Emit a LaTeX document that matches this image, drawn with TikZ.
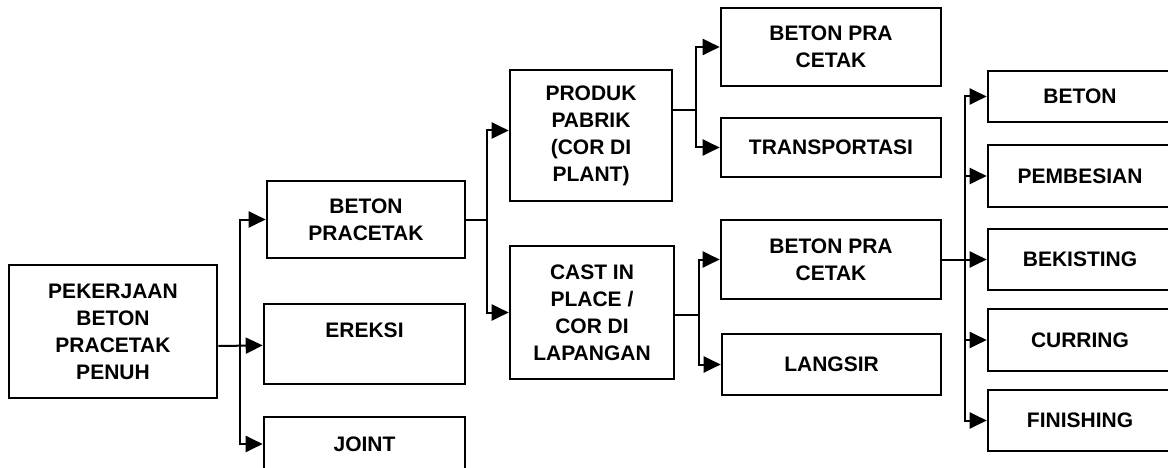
\documentclass[tikz,border=0pt]{standalone}
\usepackage{fontspec}
\setmainfont{Liberation Sans}
\usepackage{tikz}
\usetikzlibrary{arrows.meta, positioning, calc}

\begin{document}
\begin{tikzpicture}[
    x=1pt, y=-1pt,
    block/.style={draw, rectangle, line width=2.6pt, align=center, inner sep=0pt, font=\bfseries\fontsize{21}{27}\selectfont},
    link/.style={line width=2pt},
    >={Triangle[length=17pt, width=16pt]},
]
    \useasboundingbox (0,0) rectangle (1168,468);
    \clip (0,0) rectangle (1168,468);

    \node[block, minimum width=208pt, minimum height=133pt] (root)    at (113,331.5)  {PEKERJAAN\\BETON\\PRACETAK\\PENUH};
    \node[block, minimum width=198pt, minimum height=77pt]  (bpc)     at (366,219.5)  {BETON\\PRACETAK};
    \node[block, minimum width=201pt, minimum height=80pt]  (ereksi)  at (364.5,344)  {EREKSI\\~};
    \node[block, minimum width=201pt, minimum height=54pt]  (joint)   at (364.5,444)  {JOINT};
    \node[block, minimum width=162pt, minimum height=131pt] (produk)  at (591,135.5)  {PRODUK\\PABRIK\\(COR DI\\PLANT)};
    \node[block, minimum width=164pt, minimum height=133pt] (cast)    at (592,312.5)  {CAST IN\\PLACE /\\COR DI\\LAPANGAN};
    \node[block, minimum width=220pt, minimum height=78pt]  (bpc1)    at (831,47)     {BETON PRA\\CETAK};
    \node[block, minimum width=220pt, minimum height=59pt]  (trans)   at (831,147.5)  {TRANSPORTASI};
    \node[block, minimum width=220pt, minimum height=79pt]  (bpc2)    at (831,259.5)  {BETON PRA\\CETAK};
    \node[block, minimum width=219pt, minimum height=61pt]  (langsir) at (831.5,364.5) {LANGSIR};
    \node[block, minimum width=184pt, minimum height=51pt]  (beton)   at (1080,96.5)  {BETON};
    \node[block, minimum width=184pt, minimum height=62pt]  (besi)    at (1080,176)   {PEMBESIAN};
    \node[block, minimum width=184pt, minimum height=61pt]  (bekist)  at (1080,259.5) {BEKISTING};
    \node[block, minimum width=184pt, minimum height=62pt]  (curring) at (1080,340)   {CURRING};
    \node[block, minimum width=184pt, minimum height=61pt]  (finish)  at (1080,420.5) {FINISHING};

    \coordinate (t1) at (240,346);
    \coordinate (t2) at (487,219.5);
    \coordinate (t3) at (696,110);
    \coordinate (t4) at (699,315);
    \coordinate (t5) at (965,259.5);

    \draw[link, ->] (root.east |- t1) -- (ereksi);
    \draw[link, ->] (t1) |- (bpc);
    \draw[link, ->] (t1) |- (joint);

    \draw[link]     (bpc) -- (t2);
    \draw[link, ->] (t2) |- ([yshift=5pt]produk.west);
    \draw[link, ->] (t2) |- (cast);

    \draw[link]     (produk.east |- t3) -- (t3);
    \draw[link, ->] (t3) |- (bpc1);
    \draw[link, ->] (t3) |- (trans);

    \draw[link]     (cast.east |- t4) -- (t4);
    \draw[link, ->] (t4) |- (bpc2);
    \draw[link, ->] (t4) |- (langsir);

    \draw[link]     (bpc2) -- (t5);
    \foreach \n in {beton, besi, bekist, curring, finish}
        \draw[link, ->] (t5) |- (\n);
\end{tikzpicture}
\end{document}
